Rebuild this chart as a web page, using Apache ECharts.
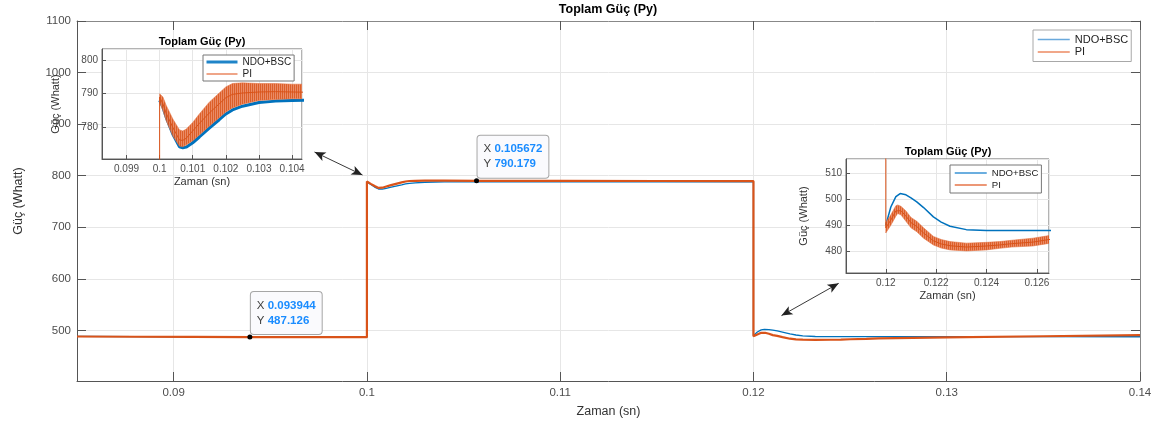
<!DOCTYPE html>
<html><head><meta charset="utf-8">
<script src="https://cdn.jsdelivr.net/npm/echarts@6/dist/echarts.min.js"></script>
<style>html,body{margin:0;padding:0;background:#fff}#c{width:1157px;height:423px}</style>
</head><body><div id="c"></div>
<script>
const FONT = '"Liberation Sans", Arial, Helvetica, sans-serif';
const seriesNames = ['NDO+BSC', 'PI'];
const titleText = 'Toplam Güç (Py)';
const xName = 'Zaman (sn)';
const yName = 'Güç (Whatt)';

// NDO+BSC (blue)
const tBlue = [0.085, 0.088, 0.091, 0.094, 0.097, 0.1,
  0.1, 0.1001, 0.1002, 0.1004, 0.1006, 0.1007, 0.1008, 0.101, 0.1012, 0.1015, 0.1018, 0.102, 0.1022, 0.1025, 0.103, 0.1035, 0.104,
  0.106, 0.11, 0.115, 0.12,
  0.12, 0.1202, 0.1204, 0.12057, 0.1208, 0.121, 0.12123, 0.1215, 0.12189, 0.1222, 0.12255, 0.1232, 0.124, 0.1265,
  0.13, 0.135, 0.14];
const pBlue = [488.4, 488.0, 487.6, 487.2, 487.0, 487.0,
  788, 786, 783, 778, 774.3, 774, 774.2, 775.5, 777.2, 779.8, 782.3, 784, 785.2, 786.3, 787.4, 787.8, 788,
  788.2, 788.2, 788.2, 788.2,
  490, 497, 501, 502.2, 501.7, 500.5, 499, 496.8, 493.2, 491.2, 489.6, 488.3, 488, 488,
  488, 487.9, 487.8];
// index where each step response starts (after the jump at 0.1 s and at 0.12 s)
const blueStep1 = 6, blueStep2 = 27;

// PI (orange) mean line
const tPI = [0.085, 0.088, 0.091, 0.094, 0.097, 0.1,
  0.1, 0.1001, 0.1002, 0.1004, 0.1006, 0.1007, 0.1008, 0.101, 0.1012, 0.1015, 0.1018, 0.102, 0.1022, 0.1025, 0.103, 0.1035, 0.104,
  0.1057, 0.11, 0.115, 0.12,
  0.12, 0.1202, 0.1204, 0.12047, 0.1206, 0.1208, 0.121, 0.12123, 0.1215, 0.12189, 0.1222, 0.12255, 0.1232, 0.124, 0.12452, 0.125, 0.12584, 0.12648,
  0.13, 0.135, 0.14];
const pPI = [488.3, 487.8, 487.4, 487.1, 487.0, 487.0,
  789, 787, 784.2, 780, 776.3, 776.2, 776.8, 779, 781.2, 784.3, 787, 788.8, 789.8, 790.2, 790.5, 790.6, 790.5,
  790.2, 790, 789.8, 789.6,
  489, 492, 495.5, 496.2, 495.6, 493.5, 491, 489.5, 487, 484, 482.8, 482.1, 481.6, 482, 482.4, 482.9, 483.5, 484.5,
  486.5, 488.8, 491];

// PI ripple envelope, zoom 1 (step up at 0.1 s)
const tBand1 = [0.1, 0.1001, 0.1002, 0.1004, 0.1006, 0.1007, 0.1008, 0.101, 0.1012, 0.1015, 0.1018, 0.102, 0.1022, 0.1025, 0.103, 0.1035, 0.104, 0.1043];
const band1Lo = [787.5, 785, 782, 777.5, 774.5, 774.3, 774.8, 776.1, 777.8, 780.4, 782.9, 784.6, 785.8, 786.9, 788, 788.3, 788.5, 788.5];
const band1Hi = [790, 789, 786.5, 782.5, 779.3, 779, 779.5, 781.5, 784, 787.5, 790.2, 792, 793, 793.2, 793, 793, 792.8, 792.8];

// PI ripple envelope, zoom 2 (step down at 0.12 s)
const tBand2 = [0.12, 0.1202, 0.1204, 0.12047, 0.1206, 0.1208, 0.121, 0.12123, 0.1215, 0.12189, 0.1222, 0.12255, 0.1232, 0.124, 0.12452, 0.125, 0.12584, 0.12648];
const band2Lo = [487, 490, 493.5, 494.5, 494, 491.5, 489, 487.5, 485, 482.4, 481.2, 480.5, 480.1, 480.5, 481.1, 481.6, 482, 483];
const band2Hi = [491, 494, 497.5, 497.8, 497.3, 495.5, 493, 491.5, 489, 485.7, 484.5, 483.7, 483.1, 483.4, 483.7, 484.2, 485, 486];

// data tips
const tipX = [0.093944, 0.105672];
const tipY = [487.126, 790.179];

// double-headed arrows [start, end] in data coords
const arrows = [
  [[0.09729, 846], [0.09977, 801.4]],
  [[0.12145, 528.8], [0.12441, 591.3]]
];

// axis ranges
const mainX = [0.085, 0.14], mainY = [402, 1100];
const z1X = [0.09826, 0.1043], z1Y = [770.7, 803.2];
const z2X = [0.11842, 0.12648], z2Y = [471.6, 515.5];

const BLUE = '#0072BD', ORANGE = '#D95319';
const zip = (a, b) => a.map((v, i) => [v, b[i]]);
const numFmt = v => String(+(+v).toFixed(6));

// streaky fill to mimic the dense PWM ripple
const stripe = document.createElement('canvas');
stripe.width = 2; stripe.height = 1;
(function () {
  const g = stripe.getContext('2d');
  g.fillStyle = ORANGE; g.fillRect(0, 0, 1, 1);
  g.fillStyle = '#e8825a'; g.fillRect(1, 0, 1, 1);
})();

function xAxisCfg(grid, r, o) {
  return Object.assign({
    type: 'value', gridIndex: grid, min: r[0], max: r[1], position: 'bottom', z: grid ? 4 : 0,
    axisLine: { show: true, onZero: false, lineStyle: { color: '#555', width: 1 } },
    axisTick: { show: true, inside: true, length: grid ? 4 : 9, lineStyle: { color: '#555' } },
    axisLabel: { show: true, formatter: numFmt, showMinLabel: false, showMaxLabel: grid ? false : true, color: '#4d4d4d', fontSize: grid ? 10 : 11.5, fontFamily: FONT, margin: grid ? 5 : 6 },
    splitLine: { show: true, lineStyle: { color: '#e6e6e6', width: 1 } },
    name: xName, nameLocation: 'middle', nameGap: grid ? 17 : 24, nameMoveOverlap: false,
    nameTextStyle: { fontSize: grid ? 11 : 12.5, color: '#333', fontFamily: FONT }
  }, o || {});
}
function yAxisCfg(grid, r, o) {
  return Object.assign({
    type: 'value', gridIndex: grid, min: r[0], max: r[1], position: 'left', z: grid ? 4 : 0,
    axisLine: { show: true, onZero: false, lineStyle: { color: '#555', width: 1 } },
    axisTick: { show: true, inside: true, length: grid ? 4 : 9, lineStyle: { color: '#555' } },
    axisLabel: { show: true, formatter: numFmt, showMinLabel: false, showMaxLabel: grid ? false : true, color: '#4d4d4d', fontSize: grid ? 10 : 11.5, fontFamily: FONT, margin: grid ? 4 : 6 },
    splitLine: { show: true, lineStyle: { color: '#e6e6e6', width: 1 } },
    name: yName, nameLocation: 'middle', nameRotate: 90, nameGap: grid ? (grid === 1 ? 41 : 36.5) : 52, nameMoveOverlap: false,
    nameTextStyle: { fontSize: grid ? 11 : 12.5, color: '#333', fontFamily: FONT }
  }, o || {});
}

function lineSeries(name, xi, data, color, width, z) {
  return { type: 'line', name, xAxisIndex: xi, yAxisIndex: xi, data, symbol: 'none', showSymbol: false,
    lineStyle: { color, width }, itemStyle: { color }, z, silent: true, animation: false, clip: true };
}
// ripple envelope drawn as a polygon through the axes' own scales
function bandSeries(idx, xi, t, lo, hi) {
  return {
    type: 'custom', name: 'PI band ' + idx, xAxisIndex: xi, yAxisIndex: xi, clip: true, z: 6, silent: true,
    data: t.map((v, i) => [v, lo[i], hi[i]]),
    encode: { x: 0, y: [1, 2] },
    renderItem: (params, api) => {
      if (params.dataIndex !== 0) return null;
      const pts = [];
      for (let i = 0; i < t.length; i++) pts.push(api.coord([t[i], hi[i]]));
      for (let i = t.length - 1; i >= 0; i--) pts.push(api.coord([t[i], lo[i]]));
      return { type: 'polygon', shape: { points: pts },
        style: { fill: { image: stripe, repeat: 'repeat' }, opacity: 0.93, stroke: '#e2703f', lineWidth: 0.6 } };
    }
  };
}

const mainPI = lineSeries(seriesNames[1], 0, zip(tPI, pPI), ORANGE, 2.2, 2);
mainPI.markPoint = {
  symbol: 'circle', symbolSize: 5, itemStyle: { color: '#000' }, silent: true,
  label: {
    show: true, position: [3.5, -42.5], align: 'left', verticalAlign: 'top',
    backgroundColor: '#fafafd', borderColor: '#a6a6a6', borderWidth: 1, borderRadius: 3, padding: [6, 6, 6, 6],
    rich: {
      k: { color: '#404040', fontSize: 11.5, fontFamily: FONT, lineHeight: 15 },
      v: { color: '#1a8cff', fontSize: 11.5, fontWeight: 'bold', fontFamily: FONT, lineHeight: 15 }
    }
  },
  data: tipX.map((x, i) => ({
    coord: [x, tipY[i]], value: tipY[i],
    label: { formatter: '{k|X }{v|' + x + '}\n{k|Y }{v|' + tipY[i] + '}' }
  }))
};
mainPI.markLine = {
  silent: true, symbol: ['arrow', 'arrow'], symbolSize: [7, 11], precision: 6,
  lineStyle: { color: '#222', width: 0.9, type: 'solid' }, itemStyle: { color: '#111' },
  label: { show: false }, emphasis: { disabled: true },
  data: arrows.map(a => [{ coord: a[0] }, { coord: a[1] }])
};

const legendBase = (o) => Object.assign({
  orient: 'vertical', selectedMode: false, z: 12, backgroundColor: '#fff', borderWidth: 1,
  itemStyle: { opacity: 0 }, textStyle: { color: '#222', fontFamily: FONT }
}, o);
const legItem = (i, w, c) => ({ name: seriesNames[i], lineStyle: { color: c, width: w, opacity: 1 } });

const blueAll = zip(tBlue, pBlue);
const option = {
  animation: false,
  backgroundColor: '#fff',
  title: [
    { text: titleText, left: 608, top: 3, textAlign: 'center', textVerticalAlign: 'top', padding: 0, z: 12,
      textStyle: { fontSize: 12.5, fontWeight: 'bold', color: '#000', fontFamily: FONT } },
    { text: titleText, left: 202, top: 36, textAlign: 'center', textVerticalAlign: 'top', padding: 0, z: 12,
      textStyle: { fontSize: 11, fontWeight: 'bold', color: '#000', fontFamily: FONT } },
    { text: titleText, left: 948, top: 146, textAlign: 'center', textVerticalAlign: 'top', padding: 0, z: 12,
      textStyle: { fontSize: 11, fontWeight: 'bold', color: '#000', fontFamily: FONT } }
  ],
  grid: [
    { left: 77, top: 21, width: 1063, height: 360, outerBoundsMode: 'none', containLabel: false },
    { left: 102, top: 49, width: 200, height: 110, show: true, backgroundColor: '#fff', borderColor: '#666', borderWidth: 1, z: 3, outerBoundsMode: 'none', containLabel: false },
    { left: 846, top: 159, width: 203, height: 114, show: true, backgroundColor: '#fff', borderColor: '#666', borderWidth: 1, z: 3, outerBoundsMode: 'none', containLabel: false }
  ],
  legend: [
    legendBase({ left: 1033, top: 30, padding: [4, 3, 4, 4], itemWidth: 32, itemHeight: 11, itemGap: 1.5, borderColor: '#a8a8a8',
      textStyle: { fontSize: 11, color: '#222', fontFamily: FONT },
      data: [legItem(0, 1.5, '#6aa9dc'), legItem(1, 1.5, '#ec8a62')] }),
    legendBase({ left: 203, top: 55, padding: [2, 3, 2, 2], itemWidth: 31, itemHeight: 11, itemGap: 2, borderColor: '#777',
      textStyle: { fontSize: 10, color: '#222', fontFamily: FONT },
      data: [legItem(0, 3, '#1f84c8'), legItem(1, 1.3, '#e67448')] }),
    legendBase({ left: 950, top: 165, padding: [3, 3, 3, 4], itemWidth: 32, itemHeight: 10, itemGap: 2, borderColor: '#777',
      textStyle: { fontSize: 9.6, color: '#222', fontFamily: FONT },
      data: [legItem(0, 1.5, '#3a93d4'), legItem(1, 1.3, '#e67448')] })
  ],
  xAxis: [
    xAxisCfg(0, mainX),
    xAxisCfg(0, mainX, { position: 'top', name: '', axisLabel: { show: false }, splitLine: { show: false },
      axisLine: { show: true, onZero: false, lineStyle: { color: '#888' } } }),
    xAxisCfg(1, z1X, { splitNumber: 5 }),
    xAxisCfg(2, z2X, { splitNumber: 4 })
  ],
  yAxis: [
    yAxisCfg(0, mainY),
    yAxisCfg(0, mainY, { position: 'right', name: '', axisLabel: { show: false }, splitLine: { show: false },
      axisLine: { show: true, onZero: false, lineStyle: { color: '#888' } } }),
    yAxisCfg(1, z1Y, { splitNumber: 3 }),
    yAxisCfg(2, z2Y, { splitNumber: 4 })
  ],
  series: [
    lineSeries(seriesNames[0], 0, blueAll, BLUE, 1.3, 2),
    mainPI,
    lineSeries(seriesNames[0], 2, blueAll.slice(blueStep1, blueStep2), BLUE, 3, 5),
    bandSeries(1, 2, tBand1, band1Lo, band1Hi),
    lineSeries(seriesNames[1], 2, zip(tPI, pPI), ORANGE, 1, 7),
    lineSeries(seriesNames[0], 3, blueAll.slice(blueStep2), BLUE, 1.5, 5),
    bandSeries(2, 3, tBand2, band2Lo, band2Hi),
    lineSeries(seriesNames[1], 3, zip(tPI, pPI), ORANGE, 1, 7)
  ]
};
const chart = echarts.init(document.getElementById('c'), null, { renderer: 'canvas' });
chart.setOption(option);
</script>
</body></html>
